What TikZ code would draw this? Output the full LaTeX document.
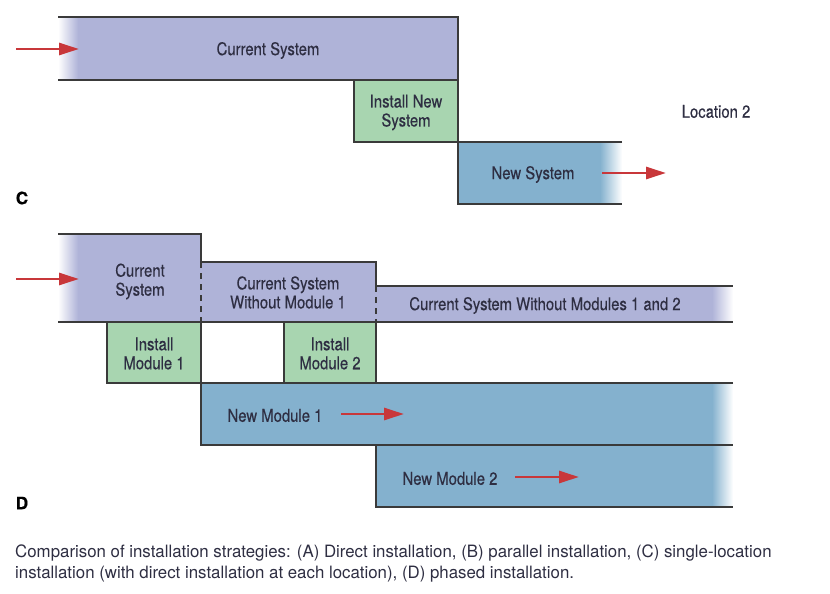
\documentclass[tikz,border=0pt]{standalone}
\usepackage{fontspec}
\setmainfont[FakeStretch=0.85,FakeBold=0.35]{TeX Gyre Heros}
\newfontfamily\capfont[FakeStretch=0.99]{TeX Gyre Heros}
\newfontfamily\labfont[FakeBold=0.6]{TeX Gyre Heros}
\usetikzlibrary{arrows.meta}
\definecolor{cpurple}{HTML}{AFB3D8}
\definecolor{cgreen}{HTML}{A8D5B0}
\definecolor{cblue}{HTML}{84B1CE}
\definecolor{cred}{HTML}{C8373A}
\definecolor{cedge}{HTML}{3A3A3A}
\definecolor{ctext}{HTML}{2E2E42}
\begin{document}
\begin{tikzpicture}[x=1pt,y=-1pt,
  edge/.style={draw=cedge,line width=1.3pt},
  dashedge/.style={draw=cedge,line width=1.2pt,dash pattern=on 6pt off 5pt},
  lbl/.style={text=ctext,font=\fontsize{17.5}{19}\selectfont,align=center,inner sep=0pt,yshift=-1.5pt},
  redarrow/.style={draw=cred,line width=2.8pt,-{Triangle[length=20pt,width=12pt]}},
  captext/.style={text=ctext,anchor=west,inner sep=0pt,font=\capfont\fontsize{17}{21}\selectfont,align=left},
  seclabel/.style={font=\labfont\bfseries\fontsize{17}{17}\selectfont,inner sep=0pt,text=black}]
\useasboundingbox (0,0) rectangle (830,594);
% ---------- C ----------
\fill[cpurple] (78,17) rectangle (458,80);
\shade[left color=white,right color=cpurple] (58,17) rectangle (78,80);
\draw[edge] (58,17) -- (458,17) -- (458,80) -- (58,80);
\draw[edge,fill=cgreen] (354,80) rectangle (458,142);
\fill[cblue] (458,142) rectangle (600,204);
\shade[left color=cblue,right color=white] (600,142) rectangle (622,204);
\draw[edge] (622,142) -- (458,142) -- (458,204) -- (622,204);
\node[lbl] (cur) at (268,49) {Current System};
\node[lbl] (inst) at (406,111) {Install New\\System};
\node[lbl] (news) at (533,173) {New System};
\node[lbl] (loc) at (716,110) {Location 2};
\coordinate (a1s) at (16,49); \coordinate (a1e) at (79,49);
\draw[redarrow] (a1s) -- (a1e);
\coordinate (a2s) at (602,173); \coordinate (a2e) at (666,173);
\draw[redarrow] (a2s) -- (a2e);
\node[seclabel] (lc) at (22,198) {C};
% ---------- D ----------
\fill[cpurple] (78,234) rectangle (201,322);
\shade[left color=white,right color=cpurple] (58,234) rectangle (78,322);
\fill[cpurple] (201,262) rectangle (376,322);
\fill[cpurple] (376,286) rectangle (712,322);
\shade[left color=cpurple,right color=white] (712,286) rectangle (733,322);
\draw[edge] (58,234) -- (201,234) -- (201,262) -- (376,262) -- (376,286) -- (733,286);
\draw[edge] (58,322) -- (733,322);
\draw[dashedge] (201,262) -- (201,322);
\draw[dashedge] (376,286) -- (376,322);
\draw[edge,fill=cgreen] (107,322) rectangle (201,383);
\draw[edge,fill=cgreen] (284,322) rectangle (376,383);
\fill[cblue] (201,383) rectangle (712,445);
\shade[left color=cblue,right color=white] (712,383) rectangle (733,445);
\fill[cblue] (376,445) rectangle (712,507);
\shade[left color=cblue,right color=white] (712,445) rectangle (733,507);
\draw[edge] (733,383) -- (201,383) -- (201,445) -- (733,445);
\draw[edge] (376,445) -- (376,507) -- (733,507);
\node[lbl] (dcur) at (140,280) {Current\\System};
\node[lbl] (dwo1) at (288,291) {Current System\\Without Module 1};
\node[lbl] (dwo12) at (545,304) {Current System Without Modules 1 and 2};
\node[lbl] (im1) at (154,352) {Install\\Module 1};
\node[lbl] (im2) at (330,352) {Install\\Module 2};
\node[lbl] (nm1) at (275,414) {New Module 1};
\node[lbl] (nm2) at (450,477) {New Module 2};
\coordinate (a3s) at (16,279); \coordinate (a3e) at (79,279);
\draw[redarrow] (a3s) -- (a3e);
\coordinate (a4s) at (341,414); \coordinate (a4e) at (404,414);
\draw[redarrow] (a4s) -- (a4e);
\coordinate (a5s) at (515,477); \coordinate (a5e) at (579,477);
\draw[redarrow] (a5s) -- (a5e);
\node[seclabel] (ld) at (22,503) {D};
% ---------- caption ----------
\node[captext] (caption) at (15,563) {Comparison of installation strategies: (A) Direct installation, (B) parallel installation, (C) single-location\\installation (with direct installation at each location), (D) phased installation.};
\end{tikzpicture}
\end{document}
